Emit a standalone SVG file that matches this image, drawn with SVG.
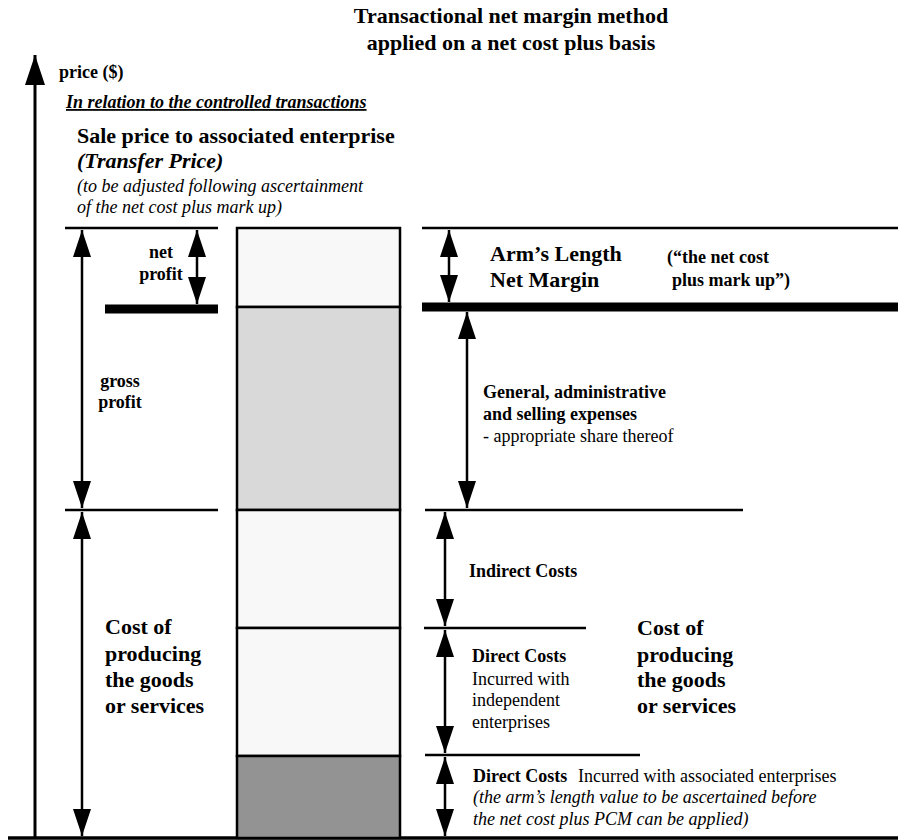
<svg xmlns="http://www.w3.org/2000/svg" width="898" height="840" viewBox="0 0 898 840">
<style>
text{font-family:"Liberation Serif","Times New Roman",serif;fill:#000}
.b{font-weight:bold}
.i{font-style:italic}
.s{font-size:18px}
.L{font-size:22px}
.ln{stroke:#000;stroke-width:2.5;fill:none}
.thick{stroke:#000;stroke-width:9;fill:none}
.arr{stroke:#000;stroke-width:2.5;fill:none;marker-start:url(#ah);marker-end:url(#ah)}
.seg{stroke:#000;stroke-width:2.5}
</style>
<defs>
<marker id="ah" markerUnits="userSpaceOnUse" markerWidth="27" markerHeight="18" refX="27" refY="9" orient="auto-start-reverse" viewBox="0 0 27 18">
<path d="M0,0 L27,9 L0,18 Z" fill="#000"/>
</marker>
<marker id="axh" markerUnits="userSpaceOnUse" markerWidth="30" markerHeight="20" refX="30" refY="10" orient="auto" viewBox="0 0 30 20">
<path d="M0,0 L30,10 L0,20 Z" fill="#000"/>
</marker>
</defs>

<g id="title">
<text class="b L" x="511" y="23" text-anchor="middle">Transactional net margin method</text>
<text class="b L" x="511" y="50" text-anchor="middle">applied on a net cost plus basis</text>
</g>

<g id="axis">
<line x1="35" y1="838" x2="35" y2="55" stroke="#000" stroke-width="3" marker-end="url(#axh)"/>
<line x1="8" y1="838" x2="898" y2="838" stroke="#000" stroke-width="3.5"/>
<text class="b s" x="59" y="78">price ($)</text>
</g>

<g id="header">
<text class="b i s" x="66" y="108" text-decoration="underline">In relation to the controlled transactions</text>
<text class="b L" x="77" y="143">Sale price to associated enterprise</text>
<text class="b i L" x="77" y="168">(Transfer Price)</text>
<text class="i s" x="77" y="192">(to be adjusted following ascertainment</text>
<text class="i s" x="77" y="213">of the net cost plus mark up)</text>
</g>

<g id="bar">
<rect class="seg" x="237" y="228" width="163" height="79" fill="#f7f8f7"/>
<rect class="seg" x="237" y="307" width="163" height="203" fill="#d9d9d9"/>
<rect class="seg" x="237" y="510" width="163" height="118" fill="#f7f8f7"/>
<rect class="seg" x="237" y="628" width="163" height="128" fill="#f7f8f7"/>
<rect class="seg" x="237" y="756" width="163" height="82" fill="#939393"/>
</g>

<g id="left-labels">
<text class="b s" x="161" y="258" text-anchor="middle">net</text>
<text class="b s" x="161" y="280" text-anchor="middle">profit</text>
<text class="b s" x="120" y="387" text-anchor="middle">gross</text>
<text class="b s" x="120" y="408" text-anchor="middle">profit</text>
<text class="b L" x="105" y="634">Cost of</text>
<text class="b L" x="105" y="661">producing</text>
<text class="b L" x="105" y="687">the goods</text>
<text class="b L" x="105" y="713">or services</text>
</g>

<g id="right-labels">
<text class="b L" x="490" y="261">Arm’s Length</text>
<text class="b L" x="490" y="287">Net Margin</text>
<text class="b s" x="667" y="263">(“the net cost</text>
<text class="b s" x="672" y="286">plus mark up”)</text>
<text class="b s" x="483" y="398">General, administrative</text>
<text class="b s" x="483" y="420">and selling expenses</text>
<text class="s" x="483" y="442">- appropriate share thereof</text>
<text class="b s" x="469" y="577">Indirect Costs</text>
<text class="b s" x="472" y="662">Direct Costs</text>
<text class="s" x="472" y="685">Incurred with</text>
<text class="s" x="472" y="706">independent</text>
<text class="s" x="472" y="728">enterprises</text>
<text class="b L" x="637" y="635">Cost of</text>
<text class="b L" x="637" y="662">producing</text>
<text class="b L" x="637" y="687">the goods</text>
<text class="b L" x="637" y="713">or services</text>
<text class="s" x="473" y="782"><tspan class="b">Direct Costs</tspan>  <tspan x="578">Incurred with associated enterprises</tspan></text>
<text class="i s" x="473" y="803">(the arm’s length value to be ascertained before</text>
<text class="i s" x="473" y="825">the net cost plus PCM can be applied)</text>
</g>

<g id="connectors">
<line class="ln" x1="65" y1="228" x2="218" y2="228"/>
<line class="thick" x1="105" y1="309" x2="218" y2="309"/>
<line class="ln" x1="65" y1="510" x2="218" y2="510"/>
<line class="arr" x1="82" y1="230" x2="82" y2="508"/>
<line class="arr" x1="82" y1="512" x2="82" y2="836"/>
<line class="arr" x1="197" y1="230" x2="197" y2="304"/>

<line class="ln" x1="422" y1="228" x2="898" y2="228"/>
<line class="thick" x1="422" y1="307" x2="898" y2="307"/>
<line class="ln" x1="425" y1="510" x2="743" y2="510"/>
<line class="ln" x1="424" y1="628" x2="586" y2="628"/>
<line class="ln" x1="425" y1="755" x2="640" y2="755"/>
<line class="arr" x1="449" y1="230" x2="449" y2="302"/>
<line class="arr" x1="467" y1="312" x2="467" y2="508"/>
<line class="arr" x1="445" y1="512" x2="445" y2="626"/>
<line class="arr" x1="445" y1="630" x2="445" y2="753"/>
<line class="arr" x1="445" y1="757" x2="445" y2="836"/>
</g>
</svg>
